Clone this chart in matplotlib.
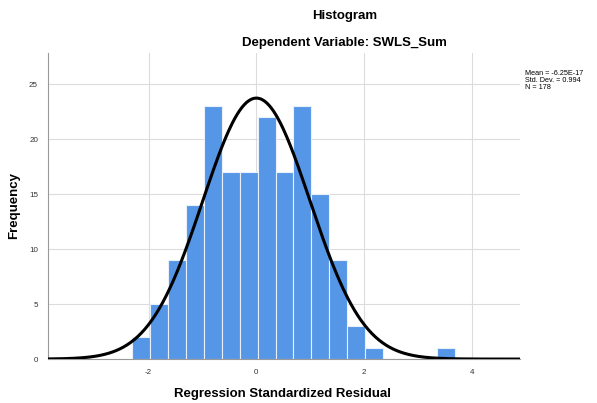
import numpy as np
import matplotlib
matplotlib.use('Agg')
import matplotlib.pyplot as plt

plt.rcParams['font.family'] = ['Liberation Sans', 'DejaVu Sans']
plt.rcParams['axes.unicode_minus'] = False

# histogram of regression standardized residuals
counts = [2, 5, 9, 14, 23, 17, 17, 22, 17, 23, 15, 9, 3, 1, 0, 0, 0, 1]
bin_start = -2.30
bin_width = 0.332
mean = -6.25e-17
std = 0.994
n = 178
xticks = [-2, 0, 2, 4]
yticks = [0, 5, 10, 15, 20, 25]

edges = bin_start + bin_width * np.arange(len(counts) + 1)

fig = plt.figure(figsize=(5.97, 4.03), dpi=100)
ax = fig.add_axes([0.080, 0.109, 0.791, 0.759])

ax.bar(edges[:-1], counts, width=bin_width, align='edge',
       color='#5596e6', edgecolor='#e8f0fb', linewidth=0.8, zorder=2)

xs = np.linspace(-3.87, 4.89, 400)
pdf = n * bin_width / (std * np.sqrt(2 * np.pi)) * np.exp(-0.5 * ((xs - mean) / std) ** 2)
ax.plot(xs, pdf, color='black', linewidth=2.2, zorder=3)

ax.set_xlim(-3.87, 4.89)
ax.set_ylim(0, 27.8)
ax.set_xticks(xticks)
ax.set_yticks(yticks)
ax.grid(True, color='#dcdcdc', linewidth=0.8, zorder=0)
ax.set_axisbelow(True)
ax.tick_params(labelsize=5.8, colors='#333333', length=0, pad=7)
for s in ['top', 'right']:
    ax.spines[s].set_visible(False)
for s in ['left', 'bottom']:
    ax.spines[s].set_color('#999999')
    ax.spines[s].set_linewidth(0.8)

fig.text(0.474, 0.022, 'Regression Standardized Residual', ha='center', va='center',
         fontsize=9.5, fontweight='bold')
fig.text(0.024, 0.49, 'Frequency', ha='center', va='center', rotation=90,
         fontsize=9.5, fontweight='bold')

fig.text(0.577, 0.960, 'Histogram', ha='center', va='center', fontsize=9.5, fontweight='bold')
fig.text(0.577, 0.893, 'Dependent Variable: SWLS_Sum', ha='center', va='center',
         fontsize=9.5, fontweight='bold')

fig.text(0.879, 0.827, 'Mean = -6.25E-17\nStd. Dev. = 0.994\nN = 178',
         ha='left', va='top', fontsize=5.2, linespacing=1.0)

fig.savefig('out.png', dpi=100)
